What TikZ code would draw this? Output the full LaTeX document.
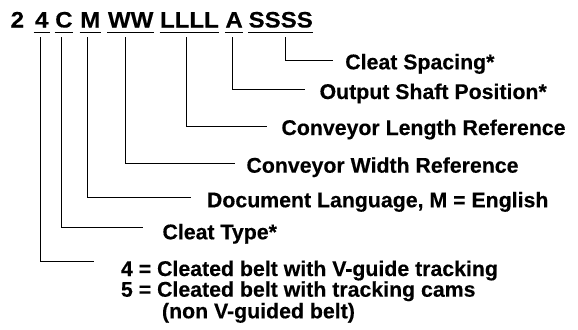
\documentclass[tikz,border=0pt]{standalone}
\usepackage{graphicx}
\usepackage{fontspec}
\setmainfont[BoldFeatures={FakeBold=0.3}]{Liberation Sans}
\usetikzlibrary{positioning}

\newcommand{\mnum}[1]{\scalebox{1.13}[1.05]{#1}}

\begin{document}
\begin{tikzpicture}[x=0.5pt,y=-0.5pt,line width=0.5pt,
                    font=\fontsize{10.65pt}{12pt}\selectfont\bfseries]
  \tikzset{code/.style={inner xsep=0pt,inner ysep=2.1pt,text height=7.7pt,text depth=0pt},
           lbl/.style={inner sep=0pt,anchor=base west}}
  \useasboundingbox (0,0) rectangle (578,329);

  % model number
  \node[code,anchor=base] (d2) at (17.35,27.5) {\mnum{2}};
  \node[code,minimum width=7.65pt,right=4.5pt of d2] (d4) {\mnum{4}};
  \node[code,right=2.45pt of d4] (dC) {\mnum{C}};
  \node[code,right=3.3pt of dC]  (dM) {\mnum{M}};
  \node[code,right=3.35pt of dM] (dW) {\mnum{WW}};
  \node[code,right=2.8pt of dW]  (dL) {\mnum{LLLL}};
  \node[code,right=2.8pt of dL]  (dA) {\mnum{A}};
  \node[code,right=2.4pt of dA]  (dS) {\mnum{SSSS}};
  \foreach \n in {d4,dC,dM,dW,dL,dA,dS}
    \draw (\n.south west) -- (\n.south east);

  % field names
  \node[lbl] (lS) at (344.8,69.3) {Cleat Spacing*};
  \node[lbl] (lA) at (319.1,99)   {Output Shaft Position*};
  \node[lbl] (lL) at (281,135)    {Conveyor Length Reference};
  \node[lbl] (lW) at (246,172.7)  {Conveyor Width Reference};
  \node[lbl] (lM) at (206.5,207.3) {Document Language, M = English};
  \node[lbl] (lC) at (162,239.3)  {Cleat Type*};
  \node[lbl] (l4) at (120.5,276)  {4 = Cleated belt with V-guide tracking};
  \node[lbl,below=10.35pt of l4.base west,anchor=base west] (l5) {5 = Cleated belt with tracking cams};
  \node[lbl,below=10.8pt of l5.base west,anchor=base west,xshift=20.5pt] (l5b) {(non V-guided belt)};

  \foreach \n/\dx/\l/\gap/\rise in {dS/4.7/lS/11.5/9.3, dA/-2/lA/14.2/9.7, dL/-3/lL/14/8.3,
      dW/-5.2/lW/11/9.4, dM/-2.5/lM/15.5/9.6, dC/-2/lC/19.3/12, d4/-0.7/l4/26.5/14.3}
    \draw[shorten <=2.5pt] ([shift={(\dx,0)}]\n.south) |- ([shift={(-\gap,-\rise)}]\l.base west);
\end{tikzpicture}
\end{document}
